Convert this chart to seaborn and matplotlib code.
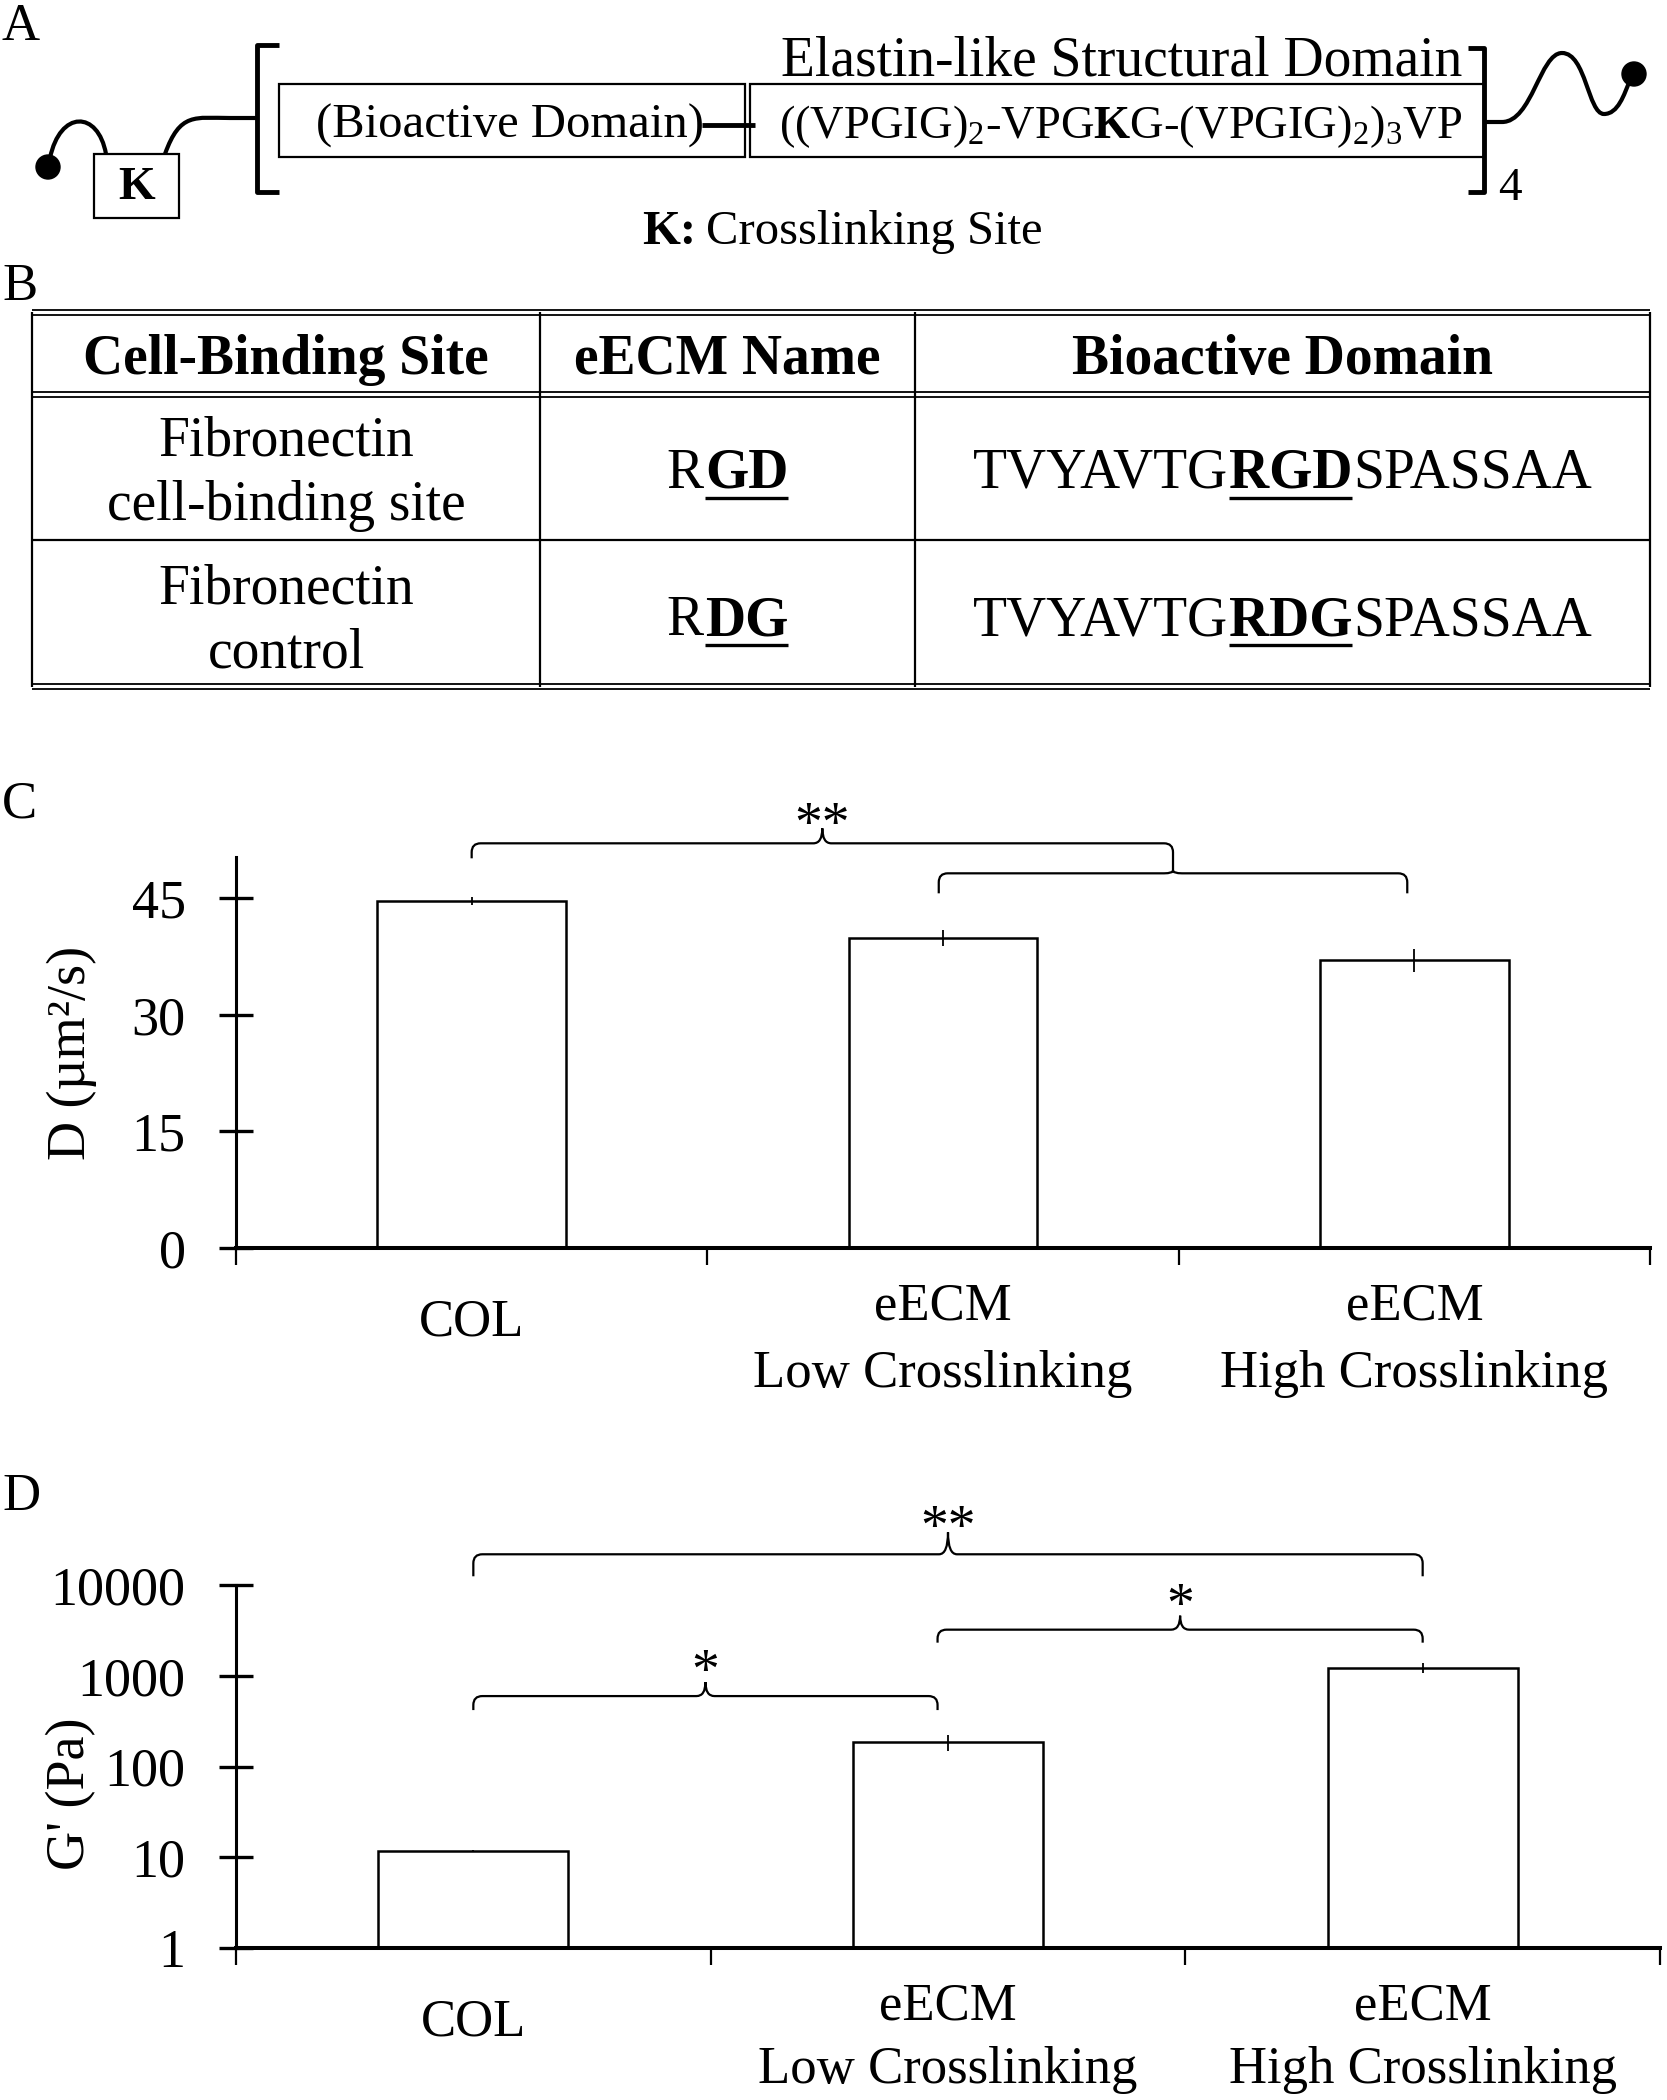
import numpy as np
import pandas as pd
import seaborn as sns
import matplotlib
matplotlib.use("Agg")
import matplotlib.pyplot as plt
import matplotlib.transforms as mtransforms
from matplotlib.path import Path
from matplotlib.patches import PathPatch, Rectangle, Circle

W, H = 1667, 2100

# ---- data ----
categories = ["COL", "eECM\nLow Crosslinking", "eECM\nHigh Crosslinking"]
diffusivity = [44.6, 39.9, 37.0]
diffusivity_err = [0.5, 1.0, 1.5]
modulus = [11.7, 185, 1230]
modulus_err = [0.4, 35, 150]
c_ticks = [0, 15, 30, 45]
d_ticks = [1, 10, 100, 1000, 10000]
d_ticklabels = ["1", "10", "100", "1000", "10000"]

table_header = ["Cell-Binding Site", "eECM Name", "Bioactive Domain"]
site_names = [["Fibronectin", "cell-binding site"], ["Fibronectin", "control"]]
ecm_names = [("R", "GD"), ("R", "DG")]
sequences = [("TVYAVTG", "RGD", "SPASSAA"), ("TVYAVTG", "RDG", "SPASSAA")]

# (left group, right group, level, label)
c_brackets = [(0, 1.488, 52.06, "**"), (0.991, 1.985, 48.2, "")]
d_brackets = [(0, 2, 21800, "**"), (0.978, 2, 3220, "*"), (0, 0.978, 597, "*")]

sns.set_theme(style="ticks", rc={"axes.edgecolor": "black", "xtick.color": "black",
                                 "ytick.color": "black", "text.color": "black",
                                 "axes.labelcolor": "black"})
plt.rcParams["font.family"] = ["Liberation Serif", "DejaVu Serif"]
plt.rcParams["mathtext.fontset"] = "custom"
plt.rcParams["mathtext.rm"] = "Liberation Serif"
plt.rcParams["mathtext.bf"] = "Liberation Serif:bold"
plt.rcParams["mathtext.it"] = "Liberation Serif:italic"

fig = plt.figure(figsize=(W / 100, H / 100), dpi=100)
axC = fig.add_axes([236 / W, 1 - 1248 / H, (1650 - 236) / W, (1248 - 857) / H])
axD = fig.add_axes([236 / W, 1 - 1948 / H, (1660 - 236) / W, (1948 - 1585) / H])


def bar_panel(ax, values, errors, ylabel, label_y, linesp, log=False):
    if log:
        ax.set_yscale("log")
    df = pd.DataFrame({"group": categories, "value": values})
    sns.barplot(data=df, x="group", y="value", color="white", edgecolor="black",
                linewidth=1.8, width=0.4, errorbar=None, ax=ax)
    ax.errorbar(range(len(values)), values, yerr=errors, fmt="none",
                ecolor="black", elinewidth=1.3, capsize=0)
    ax.set_xticks([-0.5, 0.5, 1.5, 2.5], labels=[""] * 4)
    ax.set_xlim(-0.5, 2.5)
    ax.set_xlabel("")
    ax.set_ylabel(ylabel, fontsize=39)
    ax.yaxis.set_label_coords(-0.098, label_y)
    sns.despine(ax=ax)
    ax.spines["bottom"].set_linewidth(2.9)
    ax.spines["left"].set_linewidth(2.2)
    ax.tick_params(axis="y", direction="inout", length=24.5, width=2.4, labelsize=39, pad=24)
    ax.tick_params(axis="x", direction="out", length=12, width=1.6)
    ax.minorticks_off()
    for i, lab in enumerate(categories):
        off = 51 if "\n" not in lab else 35
        tr = mtransforms.offset_copy(ax.get_xaxis_transform(), fig=fig, y=-off, units="dots")
        ax.text(i, 0, lab, transform=tr, ha="center", va="top", fontsize=38,
                linespacing=linesp)


bar_panel(axC, diffusivity, diffusivity_err, "D (µm²/s)", 0.5, 1.5)
axC.set_ylim(0, 50.3)
axC.set_yticks(c_ticks)

bar_panel(axD, modulus, modulus_err, "G' (Pa)", 0.425, 1.4, log=True)
axD.set_ylim(1, 10000)
axD.set_yticks(d_ticks, labels=d_ticklabels)
axD.minorticks_off()

# overlay in pixel coordinates (y downward) for the diagram, table and brackets
ov = fig.add_axes([0, 0, 1, 1], zorder=10)
ov.set_xlim(0, W)
ov.set_ylim(H, 0)
ov.axis("off")

LW = dict(color="black", solid_capstyle="butt")


def draw_brace(ax, x1, x2, y, label, drop_l, drop_r, rise, gap, r=9):
    (X1, Y), (X2, _) = ax.transData.transform([(x1, y), (x2, y)])
    Y = H - Y
    Xm = (X1 + X2) / 2
    verts = [(X1, Y + drop_l), (X1, Y + r), (X1, Y), (X1 + r, Y),
             (Xm - r, Y), (Xm, Y), (Xm, Y - rise),
             (Xm, Y), (Xm + r, Y),
             (X2 - r, Y), (X2, Y), (X2, Y + r), (X2, Y + drop_r)]
    codes = [Path.MOVETO, Path.LINETO, Path.CURVE3, Path.CURVE3,
             Path.LINETO, Path.CURVE3, Path.CURVE3,
             Path.CURVE3, Path.CURVE3,
             Path.LINETO, Path.CURVE3, Path.CURVE3, Path.LINETO]
    ov.add_patch(PathPatch(Path(verts, codes), fill=False, lw=1.6, edgecolor="black"))
    if label:
        ov.text(Xm, Y - rise - gap + 14, label, ha="center", va="baseline", fontsize=40)


draw_brace(axC, *c_brackets[0], drop_l=15, drop_r=27, rise=15, gap=1)
draw_brace(axC, *c_brackets[1], drop_l=20, drop_r=20, rise=3, gap=1)
draw_brace(axD, *d_brackets[0], drop_l=22, drop_r=22, rise=22, gap=2)
draw_brace(axD, *d_brackets[1], drop_l=13, drop_r=13, rise=14, gap=8)
draw_brace(axD, *d_brackets[2], drop_l=14, drop_r=14, rise=14, gap=8)

# panel letters
for letter, yb in [("A", 40), ("B", 300), ("C", 818), ("D", 1510)]:
    ov.text(2, yb, letter, fontsize=38, va="baseline", ha="left")

rend = fig.canvas.get_renderer()


def segments(x, y, parts, size, gap=1):
    items = []
    for text, bold, under in parts:
        t = ov.text(0, y, text, fontsize=size, fontweight="bold" if bold else "normal",
                    ha="left", va="baseline")
        items.append((t, t.get_window_extent(rend).width, under))
    total = sum(w for _, w, _ in items) + gap * (len(items) - 1)
    left = x - total / 2
    for t, w, under in items:
        t.set_x(left)
        if under:
            ov.plot([left, left + w], [y + 10, y + 10], lw=2.4, **LW)
        left += w + gap


# ---- panel A: construct diagram ----
ov.add_patch(Circle((48, 167), 12, color="black"))
ov.add_patch(Circle((1634, 74), 12, color="black"))
left_curve = Path([(50, 158), (60, 110), (98, 110), (106, 154)],
                  [Path.MOVETO, Path.CURVE4, Path.CURVE4, Path.CURVE4])
ov.add_patch(PathPatch(left_curve, fill=False, lw=3, edgecolor="black"))
mid_curve = Path([(165, 154), (180, 112), (195, 118), (230, 118), (257, 118)],
                 [Path.MOVETO, Path.CURVE4, Path.CURVE4, Path.CURVE4, Path.LINETO])
ov.add_patch(PathPatch(mid_curve, fill=False, lw=3, edgecolor="black"))
right_wave = Path([(1484, 122), (1502, 122),
                   (1532, 122), (1540, 53), (1562, 53),
                   (1586, 53), (1588, 114), (1604, 114),
                   (1618, 114), (1624, 95), (1630, 80)],
                  [Path.MOVETO, Path.LINETO,
                   Path.CURVE4, Path.CURVE4, Path.CURVE4,
                   Path.CURVE4, Path.CURVE4, Path.CURVE4,
                   Path.CURVE4, Path.CURVE4, Path.CURVE4])
ov.add_patch(PathPatch(right_wave, fill=False, lw=3, edgecolor="black"))

ov.add_patch(Rectangle((94, 154), 85, 64, fill=False, lw=1.6, edgecolor="black"))
ov.text(137, 199, "K", fontsize=34, fontweight="bold", ha="center", va="baseline")
ov.plot([279, 257, 257, 279], [45, 45, 192, 192], lw=3.5, **LW)
ov.plot([1468, 1484, 1484, 1468], [48, 48, 192, 192], lw=3.5, **LW)
ov.text(1498, 200, "4", fontsize=34, ha="left", va="baseline")
ov.add_patch(Rectangle((279, 84), 466, 73, fill=False, lw=1.6, edgecolor="black"))
ov.add_patch(Rectangle((750, 84), 734, 73, fill=False, lw=1.6, edgecolor="black"))
ov.plot([702, 755], [125, 125], lw=3.5, **LW)
ov.text(510, 138, "(Bioactive Domain)", fontsize=35, ha="center", va="baseline")
ov.text(1121, 138, r"((VPGIG)$_2$-VPG$\mathbf{K}$G-(VPGIG)$_2$)$_3$VP",
        fontsize=33.5, ha="center", va="baseline")
ov.text(1122, 76, "Elastin-like Structural Domain", fontsize=40, ha="center", va="baseline")
segments(842, 244, [("K:", True, False), ("Crosslinking Site", False, False)], 35, gap=10)

# ---- panel B: table ----
tx = [32, 540, 915, 1650]
for yy in [310, 315, 392, 397, 684, 689]:
    ov.plot([tx[0], tx[-1]], [yy, yy], lw=1.3, **LW)
ov.plot([tx[0], tx[-1]], [540, 540], lw=1.6, **LW)
for xx in tx:
    ov.plot([xx, xx], [312, 687], lw=1.6, **LW)

col_centers = [(tx[i] + tx[i + 1]) / 2 for i in range(3)]
for cx, head in zip(col_centers, table_header):
    ov.text(cx, 374, head, fontsize=40, fontweight="bold", ha="center", va="baseline")

row_base = [488, 635]
for i in range(2):
    yb = row_base[i]
    ov.text(col_centers[0], yb - 32, site_names[i][0], fontsize=40, ha="center", va="baseline")
    ov.text(col_centers[0], yb + 32, site_names[i][1], fontsize=40, ha="center", va="baseline")
    plain, bold = ecm_names[i]
    segments(col_centers[1], yb, [(plain, False, False), (bold, True, True)], 40)
    a, b, c = sequences[i]
    segments(col_centers[2], yb, [(a, False, False), (b, True, True), (c, False, False)], 40)

fig.savefig("out.png", dpi=100)
